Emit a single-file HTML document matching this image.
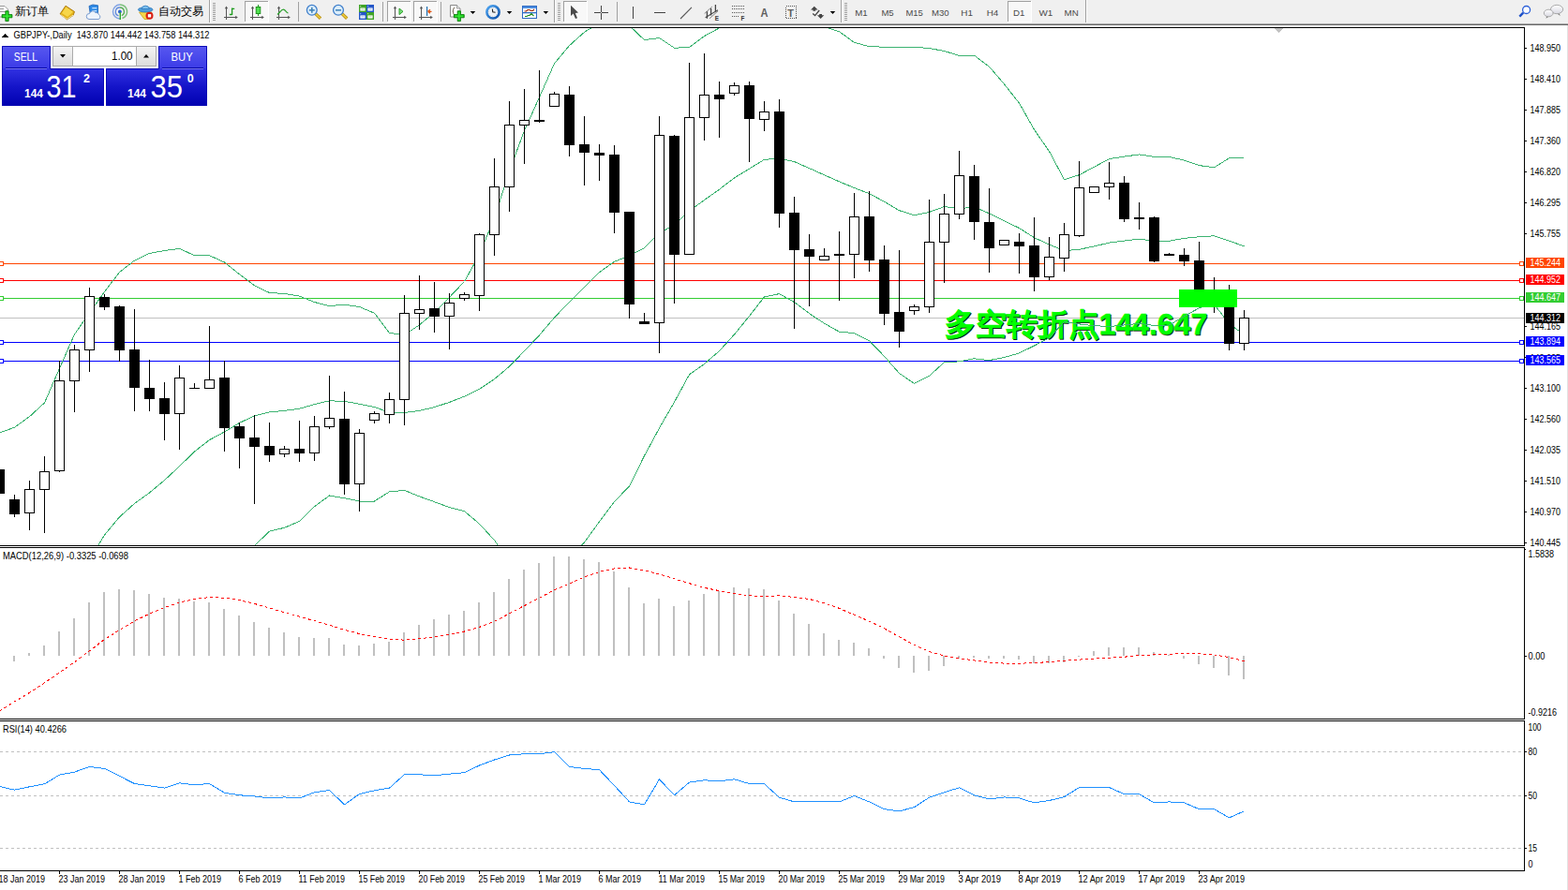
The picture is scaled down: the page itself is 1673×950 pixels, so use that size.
<!DOCTYPE html>
<html><head><meta charset="utf-8"><title>GBPJPY Daily</title>
<style>
html,body{margin:0;padding:0;background:#fff;width:1673px;height:950px;overflow:hidden;font-family:"Liberation Sans",sans-serif;}
svg{position:absolute;left:0;top:0;display:block}
text{font-family:"Liberation Sans",sans-serif}
</style></head><body>
<svg width="1673" height="950" viewBox="0 0 1673 950">
<rect x="0" y="0" width="1673" height="950" fill="#fff"/>
<!-- chart -->
<defs><clipPath id="cm"><rect x="0" y="30" width="1626" height="552"/></clipPath><clipPath id="c2"><rect x="0" y="585" width="1626" height="182"/></clipPath><clipPath id="c3"><rect x="0" y="770" width="1626" height="159"/></clipPath></defs>
<g clip-path="url(#cm)" shape-rendering="crispEdges">
<rect x="0" y="281" width="1626" height="1" fill="#FF4500" />
<rect x="0" y="299" width="1626" height="1" fill="#FF0000" />
<rect x="0" y="318" width="1626" height="1" fill="#32CD32" />
<rect x="0" y="339" width="1626" height="1" fill="#C0C0C0" />
<rect x="0" y="365" width="1626" height="1" fill="#0000FF" />
<rect x="0" y="385" width="1626" height="1" fill="#0000FF" />
</g>
<text x="1009.4" y="358" font-family="Liberation Sans, Noto Sans CJK SC, sans-serif" font-weight="bold" font-size="32" fill="#0A2A12" stroke="#0A2A12" stroke-width="0.4" textLength="164" lengthAdjust="spacingAndGlyphs">多空转折点</text>
<text x="1173.5" y="358" font-family="Liberation Sans, sans-serif" font-weight="bold" font-size="32" fill="#0A2A12" stroke="#0A2A12" stroke-width="0.5">144.647</text>
<text x="1008.4" y="357" font-family="Liberation Sans, Noto Sans CJK SC, sans-serif" font-weight="bold" font-size="32" fill="#00FF00" stroke="#00FF00" stroke-width="0.4" textLength="164" lengthAdjust="spacingAndGlyphs">多空转折点</text>
<text x="1172.5" y="357" font-family="Liberation Sans, sans-serif" font-weight="bold" font-size="32" fill="#00FF00" stroke="#00FF00" stroke-width="0.5">144.647</text>
<g clip-path="url(#cm)" shape-rendering="crispEdges">
<polyline points="-0.5,462 15.5,456.2 31.5,444.7 47.5,430 63.5,393.2 79.5,356.9 95.5,333.9 111.5,311.5 127.5,290.5 143.5,278.1 159.5,270.4 175.5,267.5 191.5,265.4 207.5,272.7 223.5,272.7 239.5,280 255.5,292.8 271.5,304.8 287.5,312.5 303.5,313.5 319.5,316.1 335.5,322.5 351.5,326.6 367.5,325.2 383.5,327.5 399.5,334.3 415.5,355.4 431.5,357.6 447.5,346.8 463.5,333.4 479.5,317.3 495.5,300.5 511.5,271.7 527.5,232.8 543.5,182.5 559.5,139.4 575.5,103.8 591.5,67.8 607.5,48.7 623.5,34.3 639.5,24.5 655.5,22.9 671.5,27.4 687.5,42.6 703.5,40.5 719.5,51.2 735.5,50.5 751.5,38.5 767.5,29.9 783.5,22.9 799.5,22.8 815.5,23.8 831.5,24.8 847.5,22.5 863.5,24.5 879.5,28.4 895.5,33.7 911.5,45.4 927.5,49.6 943.5,50.2 959.5,50.8 975.5,50.1 991.5,51.6 1007.5,54.4 1023.5,59.5 1039.5,59.1 1055.5,71.2 1071.5,89.8 1087.5,110.1 1103.5,138.4 1119.5,161.5 1135.5,191.7 1151.5,186.7 1167.5,178.2 1183.5,169.6 1199.5,167.1 1215.5,164.9 1231.5,167.4 1247.5,167.4 1263.5,171.1 1279.5,176.6 1295.5,178.8 1311.5,168.7 1327.5,168.4" fill="none" stroke="#3CB371" stroke-width="1"/>
<polyline points="79.5,625.5 95.5,597.5 111.5,571 127.5,551.8 143.5,537.5 159.5,526 175.5,512.6 191.5,497.7 207.5,482 223.5,469.6 239.5,461 255.5,451.4 271.5,443.8 287.5,439.9 303.5,438.4 319.5,436.2 335.5,431.6 351.5,427.8 367.5,428.4 383.5,431.2 399.5,434.6 415.5,440.1 431.5,440.5 447.5,438.4 463.5,434.6 479.5,429.4 495.5,423.1 511.5,415.4 527.5,404.7 543.5,391.1 559.5,374.7 575.5,357.8 591.5,339 607.5,322.4 623.5,306.6 639.5,290.7 655.5,279.2 671.5,273.1 687.5,264.6 703.5,248.7 719.5,240.2 735.5,225.2 751.5,213.5 767.5,202.2 783.5,189.9 799.5,180.1 815.5,170.3 831.5,169.2 847.5,172.6 863.5,179.6 879.5,186.8 895.5,193.9 911.5,200.5 927.5,206.7 943.5,215.2 959.5,224.7 975.5,229.7 991.5,226.4 1007.5,220.6 1023.5,222.7 1039.5,220.9 1055.5,227.9 1071.5,235.7 1087.5,243.5 1103.5,253.7 1119.5,261.1 1135.5,267.6 1151.5,266.3 1167.5,262.9 1183.5,259.1 1199.5,257.1 1215.5,255.1 1231.5,257.4 1247.5,257.2 1263.5,254.4 1279.5,252.7 1295.5,251.8 1311.5,257.2 1327.5,262.8" fill="none" stroke="#3CB371" stroke-width="1"/>
<polyline points="239.5,625.5 255.5,600.5 271.5,582.5 287.5,567.1 303.5,563.3 319.5,556.4 335.5,540.7 351.5,529 367.5,531.7 383.5,535 399.5,535 415.5,524.9 431.5,523.4 447.5,529.9 463.5,535.7 479.5,541.6 495.5,545.7 511.5,559.2 527.5,576.6 543.5,599.7 559.5,610 575.5,611.8 591.5,610.2 607.5,596.2 623.5,578.9 639.5,556.9 655.5,535.6 671.5,518.9 687.5,486.6 703.5,456.9 719.5,429.2 735.5,399.8 751.5,388.5 767.5,374.6 783.5,357 799.5,337.4 815.5,316.9 831.5,313.6 847.5,322.6 863.5,334.6 879.5,345.2 895.5,354.2 911.5,355.6 927.5,363.7 943.5,380.3 959.5,398.5 975.5,409.3 991.5,401.2 1007.5,386.7 1023.5,385.9 1039.5,382.8 1055.5,384.6 1071.5,381.5 1087.5,376.9 1103.5,369 1119.5,360.7 1135.5,343.6 1151.5,345.9 1167.5,347.7 1183.5,348.5 1199.5,347 1215.5,345.3 1231.5,347.5 1247.5,347 1263.5,337.7 1279.5,328.7 1295.5,324.8 1311.5,345.7 1327.5,357.1" fill="none" stroke="#3CB371" stroke-width="1"/>
<rect x="-1" y="495" width="1" height="36" fill="#000"/>
<rect x="-6" y="501" width="11" height="26" fill="#000"/>
<rect x="15" y="528" width="1" height="24" fill="#000"/>
<rect x="10" y="533" width="11" height="16" fill="#000"/>
<rect x="31" y="513" width="1" height="53" fill="#000"/>
<rect x="26" y="522" width="11" height="26" fill="#000"/>
<rect x="27" y="523" width="9" height="24" fill="#fff"/>
<rect x="47" y="487" width="1" height="82" fill="#000"/>
<rect x="42" y="503" width="11" height="20" fill="#000"/>
<rect x="43" y="504" width="9" height="18" fill="#fff"/>
<rect x="63" y="385" width="1" height="119" fill="#000"/>
<rect x="58" y="406" width="11" height="97" fill="#000"/>
<rect x="59" y="407" width="9" height="95" fill="#fff"/>
<rect x="79" y="368" width="1" height="72" fill="#000"/>
<rect x="74" y="373" width="11" height="34" fill="#000"/>
<rect x="75" y="374" width="9" height="32" fill="#fff"/>
<rect x="95" y="307" width="1" height="90" fill="#000"/>
<rect x="90" y="316" width="11" height="58" fill="#000"/>
<rect x="91" y="317" width="9" height="56" fill="#fff"/>
<rect x="111" y="314" width="1" height="17" fill="#000"/>
<rect x="106" y="317" width="11" height="11" fill="#000"/>
<rect x="127" y="326" width="1" height="60" fill="#000"/>
<rect x="122" y="327" width="11" height="47" fill="#000"/>
<rect x="143" y="330" width="1" height="109" fill="#000"/>
<rect x="138" y="373" width="11" height="41" fill="#000"/>
<rect x="159" y="384" width="1" height="55" fill="#000"/>
<rect x="154" y="414" width="11" height="12" fill="#000"/>
<rect x="175" y="408" width="1" height="62" fill="#000"/>
<rect x="170" y="425" width="11" height="17" fill="#000"/>
<rect x="191" y="390" width="1" height="90" fill="#000"/>
<rect x="186" y="403" width="11" height="39" fill="#000"/>
<rect x="187" y="404" width="9" height="37" fill="#fff"/>
<rect x="207" y="409" width="1" height="6" fill="#000"/>
<rect x="202" y="414" width="11" height="1" fill="#000"/>
<rect x="223" y="348" width="1" height="67" fill="#000"/>
<rect x="218" y="405" width="11" height="10" fill="#000"/>
<rect x="219" y="406" width="9" height="8" fill="#fff"/>
<rect x="239" y="385" width="1" height="97" fill="#000"/>
<rect x="234" y="403" width="11" height="54" fill="#000"/>
<rect x="255" y="451" width="1" height="49" fill="#000"/>
<rect x="250" y="455" width="11" height="13" fill="#000"/>
<rect x="271" y="443" width="1" height="95" fill="#000"/>
<rect x="266" y="467" width="11" height="10" fill="#000"/>
<rect x="287" y="451" width="1" height="42" fill="#000"/>
<rect x="282" y="476" width="11" height="10" fill="#000"/>
<rect x="303" y="476" width="1" height="12" fill="#000"/>
<rect x="298" y="479" width="11" height="6" fill="#000"/>
<rect x="299" y="480" width="9" height="4" fill="#fff"/>
<rect x="319" y="449" width="1" height="44" fill="#000"/>
<rect x="314" y="479" width="11" height="5" fill="#000"/>
<rect x="335" y="444" width="1" height="48" fill="#000"/>
<rect x="330" y="455" width="11" height="29" fill="#000"/>
<rect x="331" y="456" width="9" height="27" fill="#fff"/>
<rect x="351" y="401" width="1" height="57" fill="#000"/>
<rect x="346" y="446" width="11" height="10" fill="#000"/>
<rect x="347" y="447" width="9" height="8" fill="#fff"/>
<rect x="367" y="418" width="1" height="110" fill="#000"/>
<rect x="362" y="447" width="11" height="70" fill="#000"/>
<rect x="383" y="458" width="1" height="88" fill="#000"/>
<rect x="378" y="462" width="11" height="55" fill="#000"/>
<rect x="379" y="463" width="9" height="53" fill="#fff"/>
<rect x="399" y="439" width="1" height="13" fill="#000"/>
<rect x="394" y="441" width="11" height="8" fill="#000"/>
<rect x="395" y="442" width="9" height="6" fill="#fff"/>
<rect x="415" y="419" width="1" height="33" fill="#000"/>
<rect x="410" y="426" width="11" height="17" fill="#000"/>
<rect x="411" y="427" width="9" height="15" fill="#fff"/>
<rect x="431" y="315" width="1" height="139" fill="#000"/>
<rect x="426" y="334" width="11" height="93" fill="#000"/>
<rect x="427" y="335" width="9" height="91" fill="#fff"/>
<rect x="447" y="294" width="1" height="58" fill="#000"/>
<rect x="442" y="330" width="11" height="5" fill="#000"/>
<rect x="443" y="331" width="9" height="3" fill="#fff"/>
<rect x="463" y="301" width="1" height="54" fill="#000"/>
<rect x="458" y="329" width="11" height="9" fill="#000"/>
<rect x="479" y="313" width="1" height="60" fill="#000"/>
<rect x="474" y="323" width="11" height="15" fill="#000"/>
<rect x="475" y="324" width="9" height="13" fill="#fff"/>
<rect x="495" y="312" width="1" height="9" fill="#000"/>
<rect x="490" y="314" width="11" height="5" fill="#000"/>
<rect x="491" y="315" width="9" height="3" fill="#fff"/>
<rect x="511" y="249" width="1" height="83" fill="#000"/>
<rect x="506" y="250" width="11" height="66" fill="#000"/>
<rect x="507" y="251" width="9" height="64" fill="#fff"/>
<rect x="527" y="169" width="1" height="104" fill="#000"/>
<rect x="522" y="199" width="11" height="52" fill="#000"/>
<rect x="523" y="200" width="9" height="50" fill="#fff"/>
<rect x="543" y="108" width="1" height="118" fill="#000"/>
<rect x="538" y="133" width="11" height="67" fill="#000"/>
<rect x="539" y="134" width="9" height="65" fill="#fff"/>
<rect x="559" y="95" width="1" height="80" fill="#000"/>
<rect x="554" y="128" width="11" height="6" fill="#000"/>
<rect x="555" y="129" width="9" height="4" fill="#fff"/>
<rect x="575" y="75" width="1" height="56" fill="#000"/>
<rect x="570" y="128" width="11" height="2" fill="#000"/>
<rect x="591" y="98" width="1" height="16" fill="#000"/>
<rect x="586" y="100" width="11" height="14" fill="#000"/>
<rect x="587" y="101" width="9" height="12" fill="#fff"/>
<rect x="607" y="92" width="1" height="75" fill="#000"/>
<rect x="602" y="101" width="11" height="54" fill="#000"/>
<rect x="623" y="124" width="1" height="74" fill="#000"/>
<rect x="618" y="154" width="11" height="9" fill="#000"/>
<rect x="639" y="154" width="1" height="39" fill="#000"/>
<rect x="634" y="163" width="11" height="3" fill="#000"/>
<rect x="655" y="155" width="1" height="94" fill="#000"/>
<rect x="650" y="165" width="11" height="62" fill="#000"/>
<rect x="671" y="226" width="1" height="114" fill="#000"/>
<rect x="666" y="226" width="11" height="99" fill="#000"/>
<rect x="687" y="334" width="1" height="12" fill="#000"/>
<rect x="682" y="343" width="11" height="3" fill="#000"/>
<rect x="703" y="124" width="1" height="253" fill="#000"/>
<rect x="698" y="144" width="11" height="201" fill="#000"/>
<rect x="699" y="145" width="9" height="199" fill="#fff"/>
<rect x="719" y="144" width="1" height="180" fill="#000"/>
<rect x="714" y="145" width="11" height="127" fill="#000"/>
<rect x="735" y="67" width="1" height="205" fill="#000"/>
<rect x="730" y="125" width="11" height="147" fill="#000"/>
<rect x="731" y="126" width="9" height="145" fill="#fff"/>
<rect x="751" y="57" width="1" height="93" fill="#000"/>
<rect x="746" y="101" width="11" height="25" fill="#000"/>
<rect x="747" y="102" width="9" height="23" fill="#fff"/>
<rect x="767" y="87" width="1" height="60" fill="#000"/>
<rect x="762" y="101" width="11" height="5" fill="#000"/>
<rect x="783" y="88" width="1" height="14" fill="#000"/>
<rect x="778" y="91" width="11" height="9" fill="#000"/>
<rect x="779" y="92" width="9" height="7" fill="#fff"/>
<rect x="799" y="87" width="1" height="86" fill="#000"/>
<rect x="794" y="91" width="11" height="36" fill="#000"/>
<rect x="815" y="108" width="1" height="32" fill="#000"/>
<rect x="810" y="119" width="11" height="9" fill="#000"/>
<rect x="811" y="120" width="9" height="7" fill="#fff"/>
<rect x="831" y="106" width="1" height="137" fill="#000"/>
<rect x="826" y="119" width="11" height="109" fill="#000"/>
<rect x="847" y="210" width="1" height="141" fill="#000"/>
<rect x="842" y="227" width="11" height="40" fill="#000"/>
<rect x="863" y="250" width="1" height="77" fill="#000"/>
<rect x="858" y="266" width="11" height="8" fill="#000"/>
<rect x="879" y="265" width="1" height="13" fill="#000"/>
<rect x="874" y="273" width="11" height="5" fill="#000"/>
<rect x="875" y="274" width="9" height="3" fill="#fff"/>
<rect x="895" y="247" width="1" height="74" fill="#000"/>
<rect x="890" y="271" width="11" height="2" fill="#000"/>
<rect x="911" y="206" width="1" height="91" fill="#000"/>
<rect x="906" y="231" width="11" height="41" fill="#000"/>
<rect x="907" y="232" width="9" height="39" fill="#fff"/>
<rect x="927" y="204" width="1" height="86" fill="#000"/>
<rect x="922" y="231" width="11" height="47" fill="#000"/>
<rect x="943" y="262" width="1" height="85" fill="#000"/>
<rect x="938" y="277" width="11" height="58" fill="#000"/>
<rect x="959" y="267" width="1" height="104" fill="#000"/>
<rect x="954" y="333" width="11" height="21" fill="#000"/>
<rect x="975" y="325" width="1" height="11" fill="#000"/>
<rect x="970" y="327" width="11" height="5" fill="#000"/>
<rect x="971" y="328" width="9" height="3" fill="#fff"/>
<rect x="991" y="213" width="1" height="121" fill="#000"/>
<rect x="986" y="258" width="11" height="70" fill="#000"/>
<rect x="987" y="259" width="9" height="68" fill="#fff"/>
<rect x="1007" y="207" width="1" height="95" fill="#000"/>
<rect x="1002" y="228" width="11" height="31" fill="#000"/>
<rect x="1003" y="229" width="9" height="29" fill="#fff"/>
<rect x="1023" y="161" width="1" height="73" fill="#000"/>
<rect x="1018" y="187" width="11" height="42" fill="#000"/>
<rect x="1019" y="188" width="9" height="40" fill="#fff"/>
<rect x="1039" y="176" width="1" height="80" fill="#000"/>
<rect x="1034" y="188" width="11" height="49" fill="#000"/>
<rect x="1055" y="201" width="1" height="90" fill="#000"/>
<rect x="1050" y="237" width="11" height="28" fill="#000"/>
<rect x="1071" y="256" width="1" height="6" fill="#000"/>
<rect x="1066" y="256" width="11" height="6" fill="#000"/>
<rect x="1067" y="257" width="9" height="4" fill="#fff"/>
<rect x="1087" y="249" width="1" height="43" fill="#000"/>
<rect x="1082" y="258" width="11" height="5" fill="#000"/>
<rect x="1103" y="232" width="1" height="79" fill="#000"/>
<rect x="1098" y="262" width="11" height="34" fill="#000"/>
<rect x="1119" y="253" width="1" height="46" fill="#000"/>
<rect x="1114" y="274" width="11" height="22" fill="#000"/>
<rect x="1115" y="275" width="9" height="20" fill="#fff"/>
<rect x="1135" y="238" width="1" height="52" fill="#000"/>
<rect x="1130" y="250" width="11" height="26" fill="#000"/>
<rect x="1131" y="251" width="9" height="24" fill="#fff"/>
<rect x="1151" y="172" width="1" height="81" fill="#000"/>
<rect x="1146" y="200" width="11" height="52" fill="#000"/>
<rect x="1147" y="201" width="9" height="50" fill="#fff"/>
<rect x="1167" y="199" width="1" height="7" fill="#000"/>
<rect x="1162" y="199" width="11" height="7" fill="#000"/>
<rect x="1163" y="200" width="9" height="5" fill="#fff"/>
<rect x="1183" y="173" width="1" height="40" fill="#000"/>
<rect x="1178" y="195" width="11" height="5" fill="#000"/>
<rect x="1179" y="196" width="9" height="3" fill="#fff"/>
<rect x="1199" y="188" width="1" height="49" fill="#000"/>
<rect x="1194" y="195" width="11" height="39" fill="#000"/>
<rect x="1215" y="216" width="1" height="29" fill="#000"/>
<rect x="1210" y="232" width="11" height="2" fill="#000"/>
<rect x="1231" y="231" width="1" height="49" fill="#000"/>
<rect x="1226" y="232" width="11" height="47" fill="#000"/>
<rect x="1247" y="270" width="1" height="3" fill="#000"/>
<rect x="1242" y="271" width="11" height="2" fill="#000"/>
<rect x="1263" y="265" width="1" height="19" fill="#000"/>
<rect x="1258" y="272" width="11" height="7" fill="#000"/>
<rect x="1279" y="258" width="1" height="62" fill="#000"/>
<rect x="1274" y="278" width="11" height="41" fill="#000"/>
<rect x="1295" y="296" width="1" height="38" fill="#000"/>
<rect x="1290" y="310" width="11" height="9" fill="#000"/>
<rect x="1291" y="311" width="9" height="7" fill="#fff"/>
<rect x="1311" y="304" width="1" height="70" fill="#000"/>
<rect x="1306" y="311" width="11" height="56" fill="#000"/>
<rect x="1327" y="331" width="1" height="43" fill="#000"/>
<rect x="1322" y="339" width="11" height="28" fill="#000"/>
<rect x="1323" y="340" width="9" height="26" fill="#fff"/>
<rect x="1258" y="309" width="62" height="19" fill="#00FF00"/>
<rect x="-0.5" y="279.5" width="4" height="4" fill="#fff" stroke="#FF4500" stroke-width="1"/>
<rect x="1621.5" y="279.5" width="4" height="4" fill="#fff" stroke="#FF4500" stroke-width="1"/>
<rect x="-0.5" y="297.5" width="4" height="4" fill="#fff" stroke="#FF0000" stroke-width="1"/>
<rect x="1621.5" y="297.5" width="4" height="4" fill="#fff" stroke="#FF0000" stroke-width="1"/>
<rect x="-0.5" y="316.5" width="4" height="4" fill="#fff" stroke="#32CD32" stroke-width="1"/>
<rect x="1621.5" y="316.5" width="4" height="4" fill="#fff" stroke="#32CD32" stroke-width="1"/>
<rect x="-0.5" y="363.5" width="4" height="4" fill="#fff" stroke="#0000FF" stroke-width="1"/>
<rect x="1621.5" y="363.5" width="4" height="4" fill="#fff" stroke="#0000FF" stroke-width="1"/>
<rect x="-0.5" y="383.5" width="4" height="4" fill="#fff" stroke="#0000FF" stroke-width="1"/>
<rect x="1621.5" y="383.5" width="4" height="4" fill="#fff" stroke="#0000FF" stroke-width="1"/>
</g>
<g clip-path="url(#c2)" shape-rendering="crispEdges">
<rect x="14" y="700" width="2" height="6" fill="#C0C0C0"/>
<rect x="30" y="697" width="2" height="3" fill="#C0C0C0"/>
<rect x="46" y="689" width="2" height="11" fill="#C0C0C0"/>
<rect x="62" y="674" width="2" height="26" fill="#C0C0C0"/>
<rect x="78" y="660" width="2" height="40" fill="#C0C0C0"/>
<rect x="94" y="643" width="2" height="57" fill="#C0C0C0"/>
<rect x="110" y="632" width="2" height="68" fill="#C0C0C0"/>
<rect x="126" y="629" width="2" height="71" fill="#C0C0C0"/>
<rect x="142" y="630" width="2" height="70" fill="#C0C0C0"/>
<rect x="158" y="634" width="2" height="66" fill="#C0C0C0"/>
<rect x="174" y="638" width="2" height="62" fill="#C0C0C0"/>
<rect x="190" y="639" width="2" height="61" fill="#C0C0C0"/>
<rect x="206" y="642" width="2" height="58" fill="#C0C0C0"/>
<rect x="222" y="643" width="2" height="57" fill="#C0C0C0"/>
<rect x="238" y="650" width="2" height="50" fill="#C0C0C0"/>
<rect x="254" y="657" width="2" height="43" fill="#C0C0C0"/>
<rect x="270" y="664" width="2" height="36" fill="#C0C0C0"/>
<rect x="286" y="670" width="2" height="30" fill="#C0C0C0"/>
<rect x="302" y="675" width="2" height="25" fill="#C0C0C0"/>
<rect x="318" y="680" width="2" height="20" fill="#C0C0C0"/>
<rect x="334" y="681" width="2" height="19" fill="#C0C0C0"/>
<rect x="350" y="681" width="2" height="19" fill="#C0C0C0"/>
<rect x="366" y="688" width="2" height="12" fill="#C0C0C0"/>
<rect x="382" y="689" width="2" height="11" fill="#C0C0C0"/>
<rect x="398" y="687" width="2" height="13" fill="#C0C0C0"/>
<rect x="414" y="685" width="2" height="15" fill="#C0C0C0"/>
<rect x="430" y="675" width="2" height="25" fill="#C0C0C0"/>
<rect x="446" y="667" width="2" height="33" fill="#C0C0C0"/>
<rect x="462" y="661" width="2" height="39" fill="#C0C0C0"/>
<rect x="478" y="656" width="2" height="44" fill="#C0C0C0"/>
<rect x="494" y="652" width="2" height="48" fill="#C0C0C0"/>
<rect x="510" y="643" width="2" height="57" fill="#C0C0C0"/>
<rect x="526" y="632" width="2" height="68" fill="#C0C0C0"/>
<rect x="542" y="618" width="2" height="82" fill="#C0C0C0"/>
<rect x="558" y="608" width="2" height="92" fill="#C0C0C0"/>
<rect x="574" y="601" width="2" height="99" fill="#C0C0C0"/>
<rect x="590" y="594" width="2" height="106" fill="#C0C0C0"/>
<rect x="606" y="594" width="2" height="106" fill="#C0C0C0"/>
<rect x="622" y="597" width="2" height="103" fill="#C0C0C0"/>
<rect x="638" y="600" width="2" height="100" fill="#C0C0C0"/>
<rect x="654" y="610" width="2" height="90" fill="#C0C0C0"/>
<rect x="670" y="627" width="2" height="73" fill="#C0C0C0"/>
<rect x="686" y="644" width="2" height="56" fill="#C0C0C0"/>
<rect x="702" y="639" width="2" height="61" fill="#C0C0C0"/>
<rect x="718" y="647" width="2" height="53" fill="#C0C0C0"/>
<rect x="734" y="641" width="2" height="59" fill="#C0C0C0"/>
<rect x="750" y="634" width="2" height="66" fill="#C0C0C0"/>
<rect x="766" y="631" width="2" height="69" fill="#C0C0C0"/>
<rect x="782" y="627" width="2" height="73" fill="#C0C0C0"/>
<rect x="798" y="628" width="2" height="72" fill="#C0C0C0"/>
<rect x="814" y="629" width="2" height="71" fill="#C0C0C0"/>
<rect x="830" y="641" width="2" height="59" fill="#C0C0C0"/>
<rect x="846" y="655" width="2" height="45" fill="#C0C0C0"/>
<rect x="862" y="666" width="2" height="34" fill="#C0C0C0"/>
<rect x="878" y="676" width="2" height="24" fill="#C0C0C0"/>
<rect x="894" y="683" width="2" height="17" fill="#C0C0C0"/>
<rect x="910" y="686" width="2" height="14" fill="#C0C0C0"/>
<rect x="926" y="692" width="2" height="8" fill="#C0C0C0"/>
<rect x="942" y="700" width="2" height="3" fill="#C0C0C0"/>
<rect x="958" y="700" width="2" height="13" fill="#C0C0C0"/>
<rect x="974" y="700" width="2" height="18" fill="#C0C0C0"/>
<rect x="990" y="700" width="2" height="16" fill="#C0C0C0"/>
<rect x="1006" y="700" width="2" height="11" fill="#C0C0C0"/>
<rect x="1022" y="700" width="2" height="3" fill="#C0C0C0"/>
<rect x="1038" y="700" width="2" height="2" fill="#C0C0C0"/>
<rect x="1054" y="700" width="2" height="3" fill="#C0C0C0"/>
<rect x="1070" y="700" width="2" height="3" fill="#C0C0C0"/>
<rect x="1086" y="700" width="2" height="4" fill="#C0C0C0"/>
<rect x="1102" y="700" width="2" height="8" fill="#C0C0C0"/>
<rect x="1118" y="700" width="2" height="8" fill="#C0C0C0"/>
<rect x="1134" y="700" width="2" height="7" fill="#C0C0C0"/>
<rect x="1150" y="700" width="2" height="1" fill="#C0C0C0"/>
<rect x="1166" y="695" width="2" height="5" fill="#C0C0C0"/>
<rect x="1182" y="691" width="2" height="9" fill="#C0C0C0"/>
<rect x="1198" y="691" width="2" height="9" fill="#C0C0C0"/>
<rect x="1214" y="691" width="2" height="9" fill="#C0C0C0"/>
<rect x="1230" y="696" width="2" height="4" fill="#C0C0C0"/>
<rect x="1246" y="699" width="2" height="1" fill="#C0C0C0"/>
<rect x="1262" y="700" width="2" height="3" fill="#C0C0C0"/>
<rect x="1278" y="700" width="2" height="9" fill="#C0C0C0"/>
<rect x="1294" y="700" width="2" height="13" fill="#C0C0C0"/>
<rect x="1310" y="700" width="2" height="21" fill="#C0C0C0"/>
<rect x="1326" y="700" width="2" height="25" fill="#C0C0C0"/>
<polyline points="-0.5,759 15.5,748.9 31.5,739.5 47.5,728.8 63.5,717.8 79.5,706.7 95.5,694.7 111.5,682.6 127.5,672.6 143.5,662.9 159.5,655 175.5,648.6 191.5,643.1 207.5,639.4 223.5,637.6 239.5,638.2 255.5,640.6 271.5,644.4 287.5,649.1 303.5,653.6 319.5,658.2 335.5,662.7 351.5,667.2 367.5,672.4 383.5,676.5 399.5,679.6 415.5,682.4 431.5,683.1 447.5,681.8 463.5,679.7 479.5,677.2 495.5,674 511.5,669.4 527.5,663.2 543.5,654.9 559.5,646.5 575.5,638.2 591.5,629.8 607.5,623 623.5,616 639.5,610.4 655.5,606.9 671.5,606 687.5,608.9 703.5,612.8 719.5,617.8 735.5,622.7 751.5,627.4 767.5,630.6 783.5,633.6 799.5,635.8 815.5,636.6 831.5,635.9 847.5,637.5 863.5,639.5 879.5,643.6 895.5,649.4 911.5,656.3 927.5,663.1 943.5,670.8 959.5,679.8 975.5,688.4 991.5,695.5 1007.5,700 1023.5,702.7 1039.5,705 1055.5,707 1071.5,708.1 1087.5,708.1 1103.5,707.8 1119.5,706.4 1135.5,705.4 1151.5,704.1 1167.5,703.1 1183.5,702.2 1199.5,701.2 1215.5,699.7 1231.5,698.9 1247.5,698.1 1263.5,697.7 1279.5,697.8 1295.5,698.9 1311.5,701.6 1327.5,705.6" fill="none" stroke="#FF0000" stroke-width="1" stroke-dasharray="3,3"/>
</g>
<g clip-path="url(#c3)" shape-rendering="crispEdges">
<line x1="0" y1="802.5" x2="1626" y2="802.5" stroke="#C0C0C0" stroke-width="1" stroke-dasharray="3,3"/>
<line x1="0" y1="849.5" x2="1626" y2="849.5" stroke="#C0C0C0" stroke-width="1" stroke-dasharray="3,3"/>
<line x1="0" y1="905.5" x2="1626" y2="905.5" stroke="#C0C0C0" stroke-width="1" stroke-dasharray="3,3"/>
<polyline points="-0.5,839.5 15.5,843.2 31.5,839.8 47.5,836.8 63.5,827.1 79.5,824.1 95.5,818.4 111.5,820.4 127.5,828.4 143.5,836.5 159.5,838.8 175.5,841.1 191.5,835.8 207.5,837.8 223.5,836.5 239.5,846.2 255.5,848.8 271.5,849.9 287.5,851.9 303.5,850.9 319.5,851.9 335.5,845.8 351.5,843.5 367.5,858.9 383.5,847.5 399.5,843.8 415.5,841.1 431.5,826.8 447.5,826.8 463.5,827.8 479.5,826.1 495.5,824.7 511.5,817 527.5,811 543.5,806 559.5,804.7 575.5,804.7 591.5,802.7 607.5,818.4 623.5,820.4 639.5,821.7 655.5,838.5 671.5,855.9 687.5,858.9 703.5,831.8 719.5,848.8 735.5,835.1 751.5,832.8 767.5,833.8 783.5,831.8 799.5,836.5 815.5,836.8 831.5,851.2 847.5,855.9 863.5,855.9 879.5,855.9 895.5,855.9 911.5,849.5 927.5,855.9 943.5,863.6 959.5,865.9 975.5,861.6 991.5,851.2 1007.5,845.8 1023.5,840.8 1039.5,848.8 1055.5,852.9 1071.5,850.9 1087.5,851.9 1103.5,856.9 1119.5,854.5 1135.5,850.6 1151.5,840.6 1167.5,840.6 1183.5,840.6 1199.5,847.7 1215.5,847.7 1231.5,856.9 1247.5,855.9 1263.5,856.9 1279.5,863.7 1295.5,863.7 1311.5,872.9 1327.5,865.8" fill="none" stroke="#1E90FF" stroke-width="1"/>
</g>
<g shape-rendering="crispEdges">
<rect x="0" y="29" width="1627" height="1" fill="#000" />
<rect x="1626" y="29" width="1" height="554" fill="#000"/>
<rect x="1626" y="584" width="1" height="184" fill="#000"/>
<rect x="1626" y="769" width="1" height="161" fill="#000"/>
<rect x="0" y="582" width="1627" height="1" fill="#000" />
<rect x="0" y="584" width="1627" height="1" fill="#000" />
<rect x="0" y="767" width="1627" height="1" fill="#000" />
<rect x="0" y="769" width="1627" height="1" fill="#000" />
<rect x="0" y="929" width="1627" height="1" fill="#000" />
<rect x="1672" y="27" width="1" height="923" fill="#E3E3E3"/>
<rect x="1360" y="30" width="9" height="1" fill="#C0C0C0"/>
<rect x="1361" y="31" width="7" height="1" fill="#C0C0C0"/>
<rect x="1362" y="32" width="5" height="1" fill="#C0C0C0"/>
<rect x="1363" y="33" width="3" height="1" fill="#C0C0C0"/>
<rect x="1364" y="34" width="1" height="1" fill="#C0C0C0"/>
</g>
<!-- axis & labels -->
<g font-family="Liberation Sans, sans-serif" shape-rendering="crispEdges">
<rect x="1627" y="51" width="2" height="1" fill="#000"/>
<text x="1632.5" y="55" font-size="10.4" fill="#000" font-weight="normal" text-anchor="start" textLength="32.5" lengthAdjust="spacingAndGlyphs" >148.950</text>
<rect x="1627" y="84" width="2" height="1" fill="#000"/>
<text x="1632.5" y="88" font-size="10.4" fill="#000" font-weight="normal" text-anchor="start" textLength="32.5" lengthAdjust="spacingAndGlyphs" >148.410</text>
<rect x="1627" y="117" width="2" height="1" fill="#000"/>
<text x="1632.5" y="121" font-size="10.4" fill="#000" font-weight="normal" text-anchor="start" textLength="32.5" lengthAdjust="spacingAndGlyphs" >147.885</text>
<rect x="1627" y="150" width="2" height="1" fill="#000"/>
<text x="1632.5" y="154" font-size="10.4" fill="#000" font-weight="normal" text-anchor="start" textLength="32.5" lengthAdjust="spacingAndGlyphs" >147.360</text>
<rect x="1627" y="183" width="2" height="1" fill="#000"/>
<text x="1632.5" y="187" font-size="10.4" fill="#000" font-weight="normal" text-anchor="start" textLength="32.5" lengthAdjust="spacingAndGlyphs" >146.820</text>
<rect x="1627" y="216" width="2" height="1" fill="#000"/>
<text x="1632.5" y="220" font-size="10.4" fill="#000" font-weight="normal" text-anchor="start" textLength="32.5" lengthAdjust="spacingAndGlyphs" >146.295</text>
<rect x="1627" y="249" width="2" height="1" fill="#000"/>
<text x="1632.5" y="253" font-size="10.4" fill="#000" font-weight="normal" text-anchor="start" textLength="32.5" lengthAdjust="spacingAndGlyphs" >145.755</text>
<rect x="1627" y="348" width="2" height="1" fill="#000"/>
<text x="1632.5" y="352" font-size="10.4" fill="#000" font-weight="normal" text-anchor="start" textLength="32.5" lengthAdjust="spacingAndGlyphs" >144.165</text>
<rect x="1627" y="381" width="2" height="1" fill="#000"/>
<text x="1632.5" y="386" font-size="10.4" fill="#000" font-weight="normal" text-anchor="start" textLength="32.5" lengthAdjust="spacingAndGlyphs" >143.625</text>
<rect x="1627" y="414" width="2" height="1" fill="#000"/>
<text x="1632.5" y="418" font-size="10.4" fill="#000" font-weight="normal" text-anchor="start" textLength="32.5" lengthAdjust="spacingAndGlyphs" >143.100</text>
<rect x="1627" y="447" width="2" height="1" fill="#000"/>
<text x="1632.5" y="451" font-size="10.4" fill="#000" font-weight="normal" text-anchor="start" textLength="32.5" lengthAdjust="spacingAndGlyphs" >142.560</text>
<rect x="1627" y="480" width="2" height="1" fill="#000"/>
<text x="1632.5" y="484" font-size="10.4" fill="#000" font-weight="normal" text-anchor="start" textLength="32.5" lengthAdjust="spacingAndGlyphs" >142.035</text>
<rect x="1627" y="513" width="2" height="1" fill="#000"/>
<text x="1632.5" y="517" font-size="10.4" fill="#000" font-weight="normal" text-anchor="start" textLength="32.5" lengthAdjust="spacingAndGlyphs" >141.510</text>
<rect x="1627" y="546" width="2" height="1" fill="#000"/>
<text x="1632.5" y="550" font-size="10.4" fill="#000" font-weight="normal" text-anchor="start" textLength="32.5" lengthAdjust="spacingAndGlyphs" >140.970</text>
<rect x="1627" y="579" width="2" height="1" fill="#000"/>
<text x="1632.5" y="583" font-size="10.4" fill="#000" font-weight="normal" text-anchor="start" textLength="32.5" lengthAdjust="spacingAndGlyphs" >140.445</text>
<rect x="1628" y="275" width="41" height="11" fill="#FF4500"/>
<text x="1632.5" y="284" font-size="10.4" fill="#fff" font-weight="normal" text-anchor="start" textLength="32.5" lengthAdjust="spacingAndGlyphs" >145.244</text>
<rect x="1628" y="293" width="41" height="11" fill="#FF0000"/>
<text x="1632.5" y="302" font-size="10.4" fill="#fff" font-weight="normal" text-anchor="start" textLength="32.5" lengthAdjust="spacingAndGlyphs" >144.952</text>
<rect x="1628" y="312" width="41" height="11" fill="#32CD32"/>
<text x="1632.5" y="321" font-size="10.4" fill="#fff" font-weight="normal" text-anchor="start" textLength="32.5" lengthAdjust="spacingAndGlyphs" >144.647</text>
<rect x="1628" y="334" width="41" height="11" fill="#000000"/>
<text x="1632.5" y="343" font-size="10.4" fill="#fff" font-weight="normal" text-anchor="start" textLength="32.5" lengthAdjust="spacingAndGlyphs" >144.312</text>
<rect x="1628" y="359" width="41" height="11" fill="#0000FF"/>
<text x="1632.5" y="368" font-size="10.4" fill="#fff" font-weight="normal" text-anchor="start" textLength="32.5" lengthAdjust="spacingAndGlyphs" >143.894</text>
<rect x="1628" y="379" width="41" height="11" fill="#0000FF"/>
<text x="1632.5" y="388" font-size="10.4" fill="#fff" font-weight="normal" text-anchor="start" textLength="32.5" lengthAdjust="spacingAndGlyphs" >143.565</text>
<rect x="1627" y="586" width="1" height="1" fill="#000"/>
<text x="1630.5" y="595" font-size="10.4" fill="#000" font-weight="normal" text-anchor="start" textLength="27.5" lengthAdjust="spacingAndGlyphs" >1.5838</text>
<rect x="1627" y="700" width="2" height="1" fill="#000"/>
<text x="1630.5" y="704" font-size="10.4" fill="#000" font-weight="normal" text-anchor="start" textLength="18" lengthAdjust="spacingAndGlyphs" >0.00</text>
<text x="1630.5" y="764" font-size="10.4" fill="#000" font-weight="normal" text-anchor="start" textLength="30.5" lengthAdjust="spacingAndGlyphs" >-0.9216</text>
<text x="1630.5" y="780" font-size="10.4" fill="#000" font-weight="normal" text-anchor="start" textLength="14" lengthAdjust="spacingAndGlyphs" >100</text>
<text x="1630.5" y="806" font-size="10.4" fill="#000" font-weight="normal" text-anchor="start" textLength="9.5" lengthAdjust="spacingAndGlyphs" >80</text>
<text x="1630.5" y="853" font-size="10.4" fill="#000" font-weight="normal" text-anchor="start" textLength="9.5" lengthAdjust="spacingAndGlyphs" >50</text>
<text x="1630.5" y="909" font-size="10.4" fill="#000" font-weight="normal" text-anchor="start" textLength="9.5" lengthAdjust="spacingAndGlyphs" >15</text>
<text x="1630.5" y="926" font-size="10.4" fill="#000" font-weight="normal" text-anchor="start" textLength="5" lengthAdjust="spacingAndGlyphs" >0</text>
<rect x="1627" y="802" width="2" height="1" fill="#000"/>
<rect x="1627" y="849" width="2" height="1" fill="#000"/>
<rect x="1627" y="905" width="2" height="1" fill="#000"/>
<rect x="-1" y="930" width="1" height="3" fill="#000"/>
<text x="-1.5" y="942" font-size="10.4" fill="#000" font-weight="normal" text-anchor="start" textLength="49.5" lengthAdjust="spacingAndGlyphs" >18 Jan 2019</text>
<rect x="63" y="930" width="1" height="3" fill="#000"/>
<text x="62.5" y="942" font-size="10.4" fill="#000" font-weight="normal" text-anchor="start" textLength="49.5" lengthAdjust="spacingAndGlyphs" >23 Jan 2019</text>
<rect x="127" y="930" width="1" height="3" fill="#000"/>
<text x="126.5" y="942" font-size="10.4" fill="#000" font-weight="normal" text-anchor="start" textLength="49.5" lengthAdjust="spacingAndGlyphs" >28 Jan 2019</text>
<rect x="191" y="930" width="1" height="3" fill="#000"/>
<text x="190.5" y="942" font-size="10.4" fill="#000" font-weight="normal" text-anchor="start" textLength="45.5" lengthAdjust="spacingAndGlyphs" >1 Feb 2019</text>
<rect x="255" y="930" width="1" height="3" fill="#000"/>
<text x="254.5" y="942" font-size="10.4" fill="#000" font-weight="normal" text-anchor="start" textLength="45.5" lengthAdjust="spacingAndGlyphs" >6 Feb 2019</text>
<rect x="319" y="930" width="1" height="3" fill="#000"/>
<text x="318.5" y="942" font-size="10.4" fill="#000" font-weight="normal" text-anchor="start" textLength="49.5" lengthAdjust="spacingAndGlyphs" >11 Feb 2019</text>
<rect x="383" y="930" width="1" height="3" fill="#000"/>
<text x="382.5" y="942" font-size="10.4" fill="#000" font-weight="normal" text-anchor="start" textLength="49.5" lengthAdjust="spacingAndGlyphs" >15 Feb 2019</text>
<rect x="447" y="930" width="1" height="3" fill="#000"/>
<text x="446.5" y="942" font-size="10.4" fill="#000" font-weight="normal" text-anchor="start" textLength="49.5" lengthAdjust="spacingAndGlyphs" >20 Feb 2019</text>
<rect x="511" y="930" width="1" height="3" fill="#000"/>
<text x="510.5" y="942" font-size="10.4" fill="#000" font-weight="normal" text-anchor="start" textLength="49.5" lengthAdjust="spacingAndGlyphs" >25 Feb 2019</text>
<rect x="575" y="930" width="1" height="3" fill="#000"/>
<text x="574.5" y="942" font-size="10.4" fill="#000" font-weight="normal" text-anchor="start" textLength="45.5" lengthAdjust="spacingAndGlyphs" >1 Mar 2019</text>
<rect x="639" y="930" width="1" height="3" fill="#000"/>
<text x="638.5" y="942" font-size="10.4" fill="#000" font-weight="normal" text-anchor="start" textLength="45.5" lengthAdjust="spacingAndGlyphs" >6 Mar 2019</text>
<rect x="703" y="930" width="1" height="3" fill="#000"/>
<text x="702.5" y="942" font-size="10.4" fill="#000" font-weight="normal" text-anchor="start" textLength="49.5" lengthAdjust="spacingAndGlyphs" >11 Mar 2019</text>
<rect x="767" y="930" width="1" height="3" fill="#000"/>
<text x="766.5" y="942" font-size="10.4" fill="#000" font-weight="normal" text-anchor="start" textLength="49.5" lengthAdjust="spacingAndGlyphs" >15 Mar 2019</text>
<rect x="831" y="930" width="1" height="3" fill="#000"/>
<text x="830.5" y="942" font-size="10.4" fill="#000" font-weight="normal" text-anchor="start" textLength="49.5" lengthAdjust="spacingAndGlyphs" >20 Mar 2019</text>
<rect x="895" y="930" width="1" height="3" fill="#000"/>
<text x="894.5" y="942" font-size="10.4" fill="#000" font-weight="normal" text-anchor="start" textLength="49.5" lengthAdjust="spacingAndGlyphs" >25 Mar 2019</text>
<rect x="959" y="930" width="1" height="3" fill="#000"/>
<text x="958.5" y="942" font-size="10.4" fill="#000" font-weight="normal" text-anchor="start" textLength="49.5" lengthAdjust="spacingAndGlyphs" >29 Mar 2019</text>
<rect x="1023" y="930" width="1" height="3" fill="#000"/>
<text x="1022.5" y="942" font-size="10.4" fill="#000" font-weight="normal" text-anchor="start" textLength="45.5" lengthAdjust="spacingAndGlyphs" >3 Apr 2019</text>
<rect x="1087" y="930" width="1" height="3" fill="#000"/>
<text x="1086.5" y="942" font-size="10.4" fill="#000" font-weight="normal" text-anchor="start" textLength="45.5" lengthAdjust="spacingAndGlyphs" >8 Apr 2019</text>
<rect x="1151" y="930" width="1" height="3" fill="#000"/>
<text x="1150.5" y="942" font-size="10.4" fill="#000" font-weight="normal" text-anchor="start" textLength="49.5" lengthAdjust="spacingAndGlyphs" >12 Apr 2019</text>
<rect x="1215" y="930" width="1" height="3" fill="#000"/>
<text x="1214.5" y="942" font-size="10.4" fill="#000" font-weight="normal" text-anchor="start" textLength="49.5" lengthAdjust="spacingAndGlyphs" >17 Apr 2019</text>
<rect x="1279" y="930" width="1" height="3" fill="#000"/>
<text x="1278.5" y="942" font-size="10.4" fill="#000" font-weight="normal" text-anchor="start" textLength="49.5" lengthAdjust="spacingAndGlyphs" >23 Apr 2019</text>
<text x="14.5" y="41" font-size="10.4" fill="#000" font-weight="normal" text-anchor="start" textLength="209" lengthAdjust="spacingAndGlyphs" >GBPJPY-,Daily&#160;&#160;143.870 144.442 143.758 144.312</text>
<path d="M1.6 40.3 L5.5 36 L9.4 40.3 Z" fill="#000"/>
<text x="3" y="597" font-size="10.4" fill="#000" font-weight="normal" text-anchor="start" textLength="134" lengthAdjust="spacingAndGlyphs" >MACD(12,26,9) -0.3325 -0.0698</text>
<text x="3" y="782" font-size="10.4" fill="#000" font-weight="normal" text-anchor="start" textLength="68" lengthAdjust="spacingAndGlyphs" >RSI(14) 40.4266</text>
</g>
<!-- one click trading panel -->
<defs><linearGradient id="gb1" x1="0" y1="0" x2="0" y2="1"><stop offset="0" stop-color="#5858F0"/><stop offset="1" stop-color="#3A3AE6"/></linearGradient><linearGradient id="gb2" x1="0" y1="0" x2="0" y2="1"><stop offset="0" stop-color="#3232E2"/><stop offset="0.5" stop-color="#1414C8"/><stop offset="1" stop-color="#0000B0"/></linearGradient><linearGradient id="gbtn" x1="0" y1="0" x2="0" y2="1"><stop offset="0" stop-color="#F4F4F4"/><stop offset="1" stop-color="#DCDCDC"/></linearGradient></defs>
<g font-family="Liberation Sans, sans-serif">
<rect x="1" y="48" width="221" height="66" fill="#fff"/>
<rect x="2" y="49" width="52" height="25" fill="url(#gb1)"/>
<rect x="2" y="73" width="109" height="40" fill="url(#gb2)"/>
<rect x="6" y="72" width="44" height="1" fill="#0A0AA8"/><rect x="6" y="73" width="44" height="1" fill="#7373F0"/>
<path d="M2.5 112.5 V49.5 H53.5 V73.5 H110.5 V112.5" fill="none" stroke="#0A0AB4" stroke-width="1"/>
<rect x="169" y="49" width="52" height="25" fill="url(#gb1)"/>
<rect x="113" y="73" width="108" height="40" fill="url(#gb2)"/>
<rect x="173" y="72" width="44" height="1" fill="#0A0AA8"/><rect x="173" y="73" width="44" height="1" fill="#7373F0"/>
<path d="M113.5 112.5 V73.5 H169.5 V49.5 H220.5 V112.5" fill="none" stroke="#0A0AB4" stroke-width="1"/>
<rect x="56.5" y="49.5" width="110" height="21" fill="#fff" stroke="#ABABAB" stroke-width="1"/>
<rect x="57" y="50" width="20" height="20" fill="url(#gbtn)"/><rect x="77" y="50" width="1" height="20" fill="#ABABAB"/>
<rect x="146" y="50" width="20" height="20" fill="url(#gbtn)"/><rect x="145" y="50" width="1" height="20" fill="#ABABAB"/>
<path d="M64 58 L70 58 L67 61.5 Z" fill="#000"/>
<path d="M153 61.5 L159 61.5 L156 58 Z" fill="#000"/>
<text x="141.5" y="64" font-size="12" text-anchor="end" fill="#000" textLength="22.5" lengthAdjust="spacingAndGlyphs">1.00</text>
<text x="14.8" y="65" font-size="12" fill="#fff" textLength="25.3" lengthAdjust="spacingAndGlyphs">SELL</text>
<text x="182.5" y="65" font-size="12" fill="#fff" textLength="23.2" lengthAdjust="spacingAndGlyphs">BUY</text>
<text x="26" y="103.8" font-size="12" font-weight="bold" fill="#fff" textLength="20" lengthAdjust="spacingAndGlyphs">144</text>
<text x="49.5" y="103.8" font-size="32.5" fill="#fff" textLength="32" lengthAdjust="spacingAndGlyphs">31</text>
<text x="89" y="88" font-size="12.5" font-weight="bold" fill="#fff">2</text>
<text x="136" y="103.8" font-size="12" font-weight="bold" fill="#fff" textLength="20" lengthAdjust="spacingAndGlyphs">144</text>
<text x="160.5" y="103.8" font-size="32.5" fill="#fff" textLength="34.5" lengthAdjust="spacingAndGlyphs">35</text>
<text x="199.8" y="88" font-size="12.5" font-weight="bold" fill="#fff">0</text>
</g>
<!-- toolbar -->
<rect x="0" y="0" width="1673" height="25" fill="#F0F0F0"/>
<rect x="0" y="25" width="1673" height="1" fill="#A8A8A8"/><rect x="0" y="26" width="1673" height="1" fill="#696969"/>
<path d="M-2 6.5 h7 l3.5 3.5 v8 h-10.5 Z" fill="#fff" stroke="#9A9A9A" stroke-width="1"/>
<rect x="0" y="9" width="4" height="1" fill="#999"/><rect x="0" y="12" width="6" height="1" fill="#999"/>
<path d="M5.9 11.799999999999999 h3.2 v3.8 h3.8 v3.2 h-3.8 v3.8 h-3.2 v-3.8 h-3.8 v-3.2 h3.8 Z" fill="#16C416" stroke="#0A7E0A" stroke-width="0.9"/><rect x="6.9" y="12.799999999999999" width="1.2" height="8.8" fill="#3BEA3B"/><rect x="3.0999999999999996" y="16.599999999999998" width="8.8" height="1.2" fill="#3BEA3B"/>
<text x="15.5" y="16" font-family="Liberation Sans, Noto Sans CJK SC, sans-serif" font-size="12.1" fill="#000" textLength="36.3" lengthAdjust="spacingAndGlyphs">新订单</text>
<path d="M70 6.2 L79.5 12.5 L78 16.5 L71.5 20.8 L64 15 Z" fill="#E3B21A" stroke="#A87408" stroke-width="0.9"/>
<path d="M70.5 7.5 L78 12.8 L72 18 L66 14 Z" fill="#F7D64A"/>
<path d="M64.5 15.5 L71.5 20.3 L78 16.2" fill="none" stroke="#F3E3A0" stroke-width="1"/>
<path d="M95 6.5 L99 5 L104.5 5.8 L104.5 16 L96.5 16 Z" fill="#2F8BE6" stroke="#1A62B8" stroke-width="0.8"/>
<rect x="98.3" y="8" width="5" height="1.3" fill="#BFE0FF"/><rect x="98.3" y="11" width="5" height="1.3" fill="#BFE0FF"/>
<path d="M95 20.5 a3 3 0 0 1 0.5 -6 a3.6 3.6 0 0 1 6.5 -1 a3 3 0 0 1 3.5 2.2 a2.6 2.6 0 0 1 -0.5 4.8 Z" fill="#EEF4FC" stroke="#6F93C9" stroke-width="0.9"/>
<path d="M128 20 A7.5 7.5 0 0 1 128 5" fill="none" stroke="#7FA2E4" stroke-width="1.4"/><path d="M128 5 A7.5 7.5 0 0 1 130.5 19.6" fill="none" stroke="#7CC07C" stroke-width="1.6"/>
<path d="M126.5 16.8 A4.5 4.5 0 0 1 128 8" fill="none" stroke="#5F8ADB" stroke-width="1.3"/><path d="M128 8 A4.5 4.5 0 0 1 129.8 16.6" fill="none" stroke="#58AE58" stroke-width="1.4"/>
<circle cx="127.9" cy="12.4" r="1.9" fill="#2E62D2"/>
<rect x="127.6" y="13" width="1.4" height="8" fill="#2EA82E"/>
<path d="M148.5 13 L162 13 L158 20.5 L154 20.5 Z" fill="#F6D84A" stroke="#C9A21A" stroke-width="0.8"/>
<ellipse cx="155.2" cy="10.3" rx="7.8" ry="2.6" fill="#4E9EDB" stroke="#2E78BB" stroke-width="0.8"/>
<path d="M151 9.5 a4.3 4.3 0 0 1 8.4 0 Z" fill="#7EC0EE" stroke="#2E78BB" stroke-width="0.8"/>
<circle cx="159.5" cy="16.8" r="4" fill="#D81E12"/><rect x="157.8" y="15.1" width="3.4" height="3.4" fill="#fff"/>
<text x="168.5" y="16" font-family="Liberation Sans, Noto Sans CJK SC, sans-serif" font-size="12.1" fill="#000" textLength="48.4" lengthAdjust="spacingAndGlyphs">自动交易</text>
<rect x="223" y="0" width="1" height="24" fill="#A0A0A0"/><rect x="224" y="0" width="1" height="24" fill="#fff"/>
<rect x="227" y="3" width="3" height="1" fill="#A0A0A0"/><rect x="227" y="5" width="3" height="1" fill="#A0A0A0"/><rect x="227" y="7" width="3" height="1" fill="#A0A0A0"/><rect x="227" y="9" width="3" height="1" fill="#A0A0A0"/><rect x="227" y="11" width="3" height="1" fill="#A0A0A0"/><rect x="227" y="13" width="3" height="1" fill="#A0A0A0"/><rect x="227" y="15" width="3" height="1" fill="#A0A0A0"/><rect x="227" y="17" width="3" height="1" fill="#A0A0A0"/><rect x="227" y="19" width="3" height="1" fill="#A0A0A0"/><rect x="227" y="21" width="3" height="1" fill="#A0A0A0"/>
<rect x="241" y="8" width="1" height="13" fill="#555"/><path d="M239.8 9.2 L241.5 6.6 L243.2 9.2 Z" fill="#555"/><rect x="239" y="18" width="13" height="1" fill="#555"/><path d="M251.2 16.8 L253.8 18.5 L251.2 20.2 Z" fill="#555"/>
<path d="M244.8 15.5 h2.8 M247.6 8.6 v7.5 M247.6 9.4 h2.6" fill="none" stroke="#1C9A1C" stroke-width="1.3"/>
<rect x="261" y="1" width="25" height="22" fill="#F8F8F8"/><rect x="261" y="1" width="25" height="1" fill="#A0A0A0"/><rect x="261" y="1" width="1" height="22" fill="#A0A0A0"/><rect x="261" y="23" width="26" height="1" fill="#fff"/><rect x="286" y="1" width="1" height="22" fill="#fff"/>
<rect x="269" y="8" width="1" height="13" fill="#555"/><path d="M267.8 9.2 L269.5 6.6 L271.2 9.2 Z" fill="#555"/><rect x="267" y="18" width="13" height="1" fill="#555"/><path d="M279.2 16.8 L281.8 18.5 L279.2 20.2 Z" fill="#555"/>
<rect x="275" y="5" width="1" height="12" fill="#1C9A1C"/><rect x="273.2" y="7.5" width="4.6" height="7" fill="#4FE04F" stroke="#148A14" stroke-width="0.9"/>
<rect x="297" y="8" width="1" height="13" fill="#555"/><path d="M295.8 9.2 L297.5 6.6 L299.2 9.2 Z" fill="#555"/><rect x="295" y="18" width="13" height="1" fill="#555"/><path d="M307.2 16.8 L309.8 18.5 L307.2 20.2 Z" fill="#555"/>
<path d="M296 15.5 C299 13 300 10 302.5 10.2 C304.5 10.5 305.5 13.5 307.5 14" fill="none" stroke="#2EA02E" stroke-width="1.2"/>
<rect x="318" y="2" width="1" height="21" fill="#A0A0A0"/>
<path d="M336.40000000000003 14.4 L342.0 19.8" stroke="#B98E12" stroke-width="3.3"/><path d="M336.7 14.7 L341.7 19.5" stroke="#EBCB3C" stroke-width="1.7"/>
<circle cx="332.8" cy="10.8" r="5.4" fill="#DCEEFB" stroke="#3F7FCB" stroke-width="1.3"/>
<rect x="329.8" y="10.1" width="6" height="1.5" fill="#3B7FB5"/>
<rect x="332.05" y="7.8" width="1.5" height="6" fill="#3B7FB5"/>
<path d="M364.6 14.4 L370.2 19.8" stroke="#B98E12" stroke-width="3.3"/><path d="M364.9 14.7 L369.9 19.5" stroke="#EBCB3C" stroke-width="1.7"/>
<circle cx="361" cy="10.8" r="5.4" fill="#DCEEFB" stroke="#3F7FCB" stroke-width="1.3"/>
<rect x="358" y="10.1" width="6" height="1.5" fill="#3B7FB5"/>
<rect x="383" y="5" width="8" height="8" fill="#3FA326"/><rect x="384.4" y="8.4" width="5.2" height="3.2" fill="#fff"/><rect x="385.4" y="9.4" width="3.2" height="0.9" fill="#3FA326" opacity="0.45"/><rect x="384.2" y="6.2" width="1" height="1" fill="#fff" opacity="0.8"/>
<rect x="391" y="5" width="8" height="8" fill="#2456C8"/><rect x="392.4" y="8.4" width="5.2" height="3.2" fill="#fff"/><rect x="393.4" y="9.4" width="3.2" height="0.9" fill="#2456C8" opacity="0.45"/><rect x="392.2" y="6.2" width="1" height="1" fill="#fff" opacity="0.8"/>
<rect x="383" y="13" width="8" height="8" fill="#2456C8"/><rect x="384.4" y="16.4" width="5.2" height="3.2" fill="#fff"/><rect x="385.4" y="17.4" width="3.2" height="0.9" fill="#2456C8" opacity="0.45"/><rect x="384.2" y="14.2" width="1" height="1" fill="#fff" opacity="0.8"/>
<rect x="391" y="13" width="8" height="8" fill="#3FA326"/><rect x="392.4" y="16.4" width="5.2" height="3.2" fill="#fff"/><rect x="393.4" y="17.4" width="3.2" height="0.9" fill="#3FA326" opacity="0.45"/><rect x="392.2" y="14.2" width="1" height="1" fill="#fff" opacity="0.8"/>
<rect x="408" y="2" width="1" height="21" fill="#A0A0A0"/>
<rect x="413" y="1" width="25" height="22" fill="#F8F8F8"/><rect x="413" y="1" width="25" height="1" fill="#A0A0A0"/><rect x="413" y="1" width="1" height="22" fill="#A0A0A0"/><rect x="413" y="23" width="26" height="1" fill="#fff"/><rect x="438" y="1" width="1" height="22" fill="#fff"/>
<rect x="421" y="8" width="1" height="13" fill="#555"/><path d="M419.8 9.2 L421.5 6.6 L423.2 9.2 Z" fill="#555"/><rect x="419" y="18" width="13" height="1" fill="#555"/><path d="M431.2 16.8 L433.8 18.5 L431.2 20.2 Z" fill="#555"/>
<path d="M426 9 L430 12.3 L426 15.6 Z" fill="#7DE07D" stroke="#1C9A1C" stroke-width="0.9"/>
<rect x="441" y="1" width="25" height="22" fill="#F8F8F8"/><rect x="441" y="1" width="25" height="1" fill="#A0A0A0"/><rect x="441" y="1" width="1" height="22" fill="#A0A0A0"/><rect x="441" y="23" width="26" height="1" fill="#fff"/><rect x="466" y="1" width="1" height="22" fill="#fff"/>
<rect x="449" y="8" width="1" height="13" fill="#555"/><path d="M447.8 9.2 L449.5 6.6 L451.2 9.2 Z" fill="#555"/><rect x="447" y="18" width="13" height="1" fill="#555"/><path d="M459.2 16.8 L461.8 18.5 L459.2 20.2 Z" fill="#555"/>
<rect x="455" y="7" width="1.2" height="10" fill="#1E6FB0"/><path d="M456.5 12.3 L460.5 12.3 M456.5 12.3 L459 10.3 M456.5 12.3 L459 14.3" stroke="#E0500A" stroke-width="1.2" fill="none"/>
<rect x="470" y="2" width="1" height="21" fill="#A0A0A0"/>
<path d="M480.5 5.5 h7 l3.5 3.5 v9 h-10.5 Z" fill="#fff" stroke="#8A8A8A" stroke-width="1"/><path d="M487.5 5.5 v3.5 h3.5" fill="#E8E8E8" stroke="#8A8A8A" stroke-width="0.8"/><path d="M485.3 8.3 q-1.6 0 -1.6 1.5 v1.3 q0 0.9 -0.9 0.9 q0.9 0 0.9 0.9 v1.3 q0 1.5 1.6 1.5" fill="none" stroke="#4A3A20" stroke-width="0.8"/>
<path d="M488.2 11.799999999999999 h3.2 v3.8 h3.8 v3.2 h-3.8 v3.8 h-3.2 v-3.8 h-3.8 v-3.2 h3.8 Z" fill="#16C416" stroke="#0A7E0A" stroke-width="0.9"/><rect x="489.2" y="12.799999999999999" width="1.2" height="8.8" fill="#3BEA3B"/><rect x="485.40000000000003" y="16.599999999999998" width="8.8" height="1.2" fill="#3BEA3B"/>
<path d="M501.7 12 L507.2 12 L504.45 15 Z" fill="#000"/>
<defs><linearGradient id="gclk" x1="0" y1="0" x2="1" y2="1"><stop offset="0" stop-color="#4FA6F2"/><stop offset="1" stop-color="#0B4FA8"/></linearGradient></defs>
<circle cx="526" cy="12.9" r="6.6" fill="#EEF2F6" stroke="url(#gclk)" stroke-width="2.6"/>
<path d="M525.4 9.6 L525.7 12.8 L528.6 13.2" fill="none" stroke="#222" stroke-width="1.1"/>
<circle cx="526" cy="12.9" r="4.4" fill="none" stroke="#9AA4B0" stroke-width="0.7" stroke-dasharray="0.6,1.7"/>
<path d="M540.8 12 L546.3 12 L543.55 15 Z" fill="#000"/>
<rect x="557.5" y="6.5" width="15" height="13" fill="#fff" stroke="#2D6BC4" stroke-width="1"/><rect x="558" y="7" width="14" height="2" fill="#4D8DE0"/><rect x="558" y="13" width="14" height="1.3" fill="#2D6BC4"/>
<path d="M559.5 12 h2 l1.5 -1.5 h2 l1.5 1 h2 l1.5 -1.5" fill="none" stroke="#A02A0A" stroke-width="1.2"/>
<path d="M560 17.5 h2 l1.5 -1 h1.5 l2 -1.8 l2.5 2.5" fill="none" stroke="#1C8A1C" stroke-width="1.2"/>
<path d="M579.6 12 L585.1 12 L582.35 15 Z" fill="#000"/>
<rect x="591" y="0" width="1" height="24" fill="#A0A0A0"/><rect x="592" y="0" width="1" height="24" fill="#fff"/>
<rect x="595" y="3" width="3" height="1" fill="#A0A0A0"/><rect x="595" y="5" width="3" height="1" fill="#A0A0A0"/><rect x="595" y="7" width="3" height="1" fill="#A0A0A0"/><rect x="595" y="9" width="3" height="1" fill="#A0A0A0"/><rect x="595" y="11" width="3" height="1" fill="#A0A0A0"/><rect x="595" y="13" width="3" height="1" fill="#A0A0A0"/><rect x="595" y="15" width="3" height="1" fill="#A0A0A0"/><rect x="595" y="17" width="3" height="1" fill="#A0A0A0"/><rect x="595" y="19" width="3" height="1" fill="#A0A0A0"/><rect x="595" y="21" width="3" height="1" fill="#A0A0A0"/>
<rect x="601" y="1" width="25" height="22" fill="#F8F8F8"/><rect x="601" y="1" width="25" height="1" fill="#A0A0A0"/><rect x="601" y="1" width="1" height="22" fill="#A0A0A0"/><rect x="601" y="23" width="26" height="1" fill="#fff"/><rect x="626" y="1" width="1" height="22" fill="#fff"/>
<path d="M609 5.7 L609 17 L611.7 14.6 L614 20 L616 19.2 L613.8 14 L617 13.6 Z" fill="#4A4A4A"/>
<rect x="634" y="13" width="15" height="1" fill="#444"/><rect x="641" y="6" width="1" height="15" fill="#444"/><rect x="641" y="13" width="1" height="1" fill="#F0F0F0"/>
<rect x="658" y="2" width="1" height="21" fill="#A0A0A0"/>
<rect x="675" y="7" width="1" height="13" fill="#444"/>
<rect x="698" y="13" width="12" height="1" fill="#444"/>
<path d="M726 20 L738 7.8" stroke="#555" stroke-width="1.1"/>
<path d="M751.7 14.5 L759.8 7.1 M757 19.8 L766 11.8" stroke="#666" stroke-width="0.8"/><path d="M752.6 18.7 L766 10.8" stroke="#4A4A4A" stroke-width="1.1"/>
<path d="M754.4 12.2 V19.8 M758.6 9 V16.5 M763.4 5 V12.2" stroke="#444" stroke-width="1.3"/>
<text x="762.8" y="21.6" font-family="Liberation Sans, sans-serif" font-size="6.4" font-weight="bold" fill="#333">E</text>
<line x1="781" y1="6.5" x2="794" y2="6.5" stroke="#555" stroke-width="1" stroke-dasharray="1,1" shape-rendering="crispEdges"/>
<line x1="781" y1="9.5" x2="794" y2="9.5" stroke="#555" stroke-width="1" stroke-dasharray="1,1" shape-rendering="crispEdges"/>
<line x1="781" y1="13.5" x2="794" y2="13.5" stroke="#555" stroke-width="1" stroke-dasharray="1,1" shape-rendering="crispEdges"/>
<line x1="781" y1="17.5" x2="789" y2="17.5" stroke="#555" stroke-width="1" stroke-dasharray="1,1" shape-rendering="crispEdges"/>
<text x="790.6" y="21.6" font-family="Liberation Sans, sans-serif" font-size="6.4" font-weight="bold" fill="#333">F</text>
<text x="815.6" y="18" font-family="Liberation Sans, sans-serif" font-size="12.5" font-weight="bold" text-anchor="middle" fill="#5E5E5E" textLength="8" lengthAdjust="spacingAndGlyphs">A</text>
<rect x="838.5" y="6.5" width="11" height="13" fill="none" stroke="#555" stroke-width="1" stroke-dasharray="1,1" shape-rendering="crispEdges"/>
<text x="843.6" y="17.8" font-family="Liberation Sans, sans-serif" font-size="11" font-weight="bold" text-anchor="middle" fill="#5E5E5E">T</text>
<path d="M868.8 6.8 L872.6 10.4 L870.2 10.4 L870.2 11.8 L867.4 11.8 L867.4 10.4 L865 10.4 Z" fill="#444"/>
<path d="M875.6 20 L871.9 16.3 L874.2 16.3 L874.2 15 L877 15 L877 16.3 L879.3 16.3 Z" fill="#444"/>
<path d="M867.2 14.6 l2.4 2 l4.6 -5.6" fill="none" stroke="#444" stroke-width="1.3"/>
<path d="M885.7 12 L891.2 12 L888.45 15 Z" fill="#000"/>
<rect x="897" y="0" width="1" height="24" fill="#A0A0A0"/><rect x="898" y="0" width="1" height="24" fill="#fff"/>
<rect x="901" y="3" width="3" height="1" fill="#A0A0A0"/><rect x="901" y="5" width="3" height="1" fill="#A0A0A0"/><rect x="901" y="7" width="3" height="1" fill="#A0A0A0"/><rect x="901" y="9" width="3" height="1" fill="#A0A0A0"/><rect x="901" y="11" width="3" height="1" fill="#A0A0A0"/><rect x="901" y="13" width="3" height="1" fill="#A0A0A0"/><rect x="901" y="15" width="3" height="1" fill="#A0A0A0"/><rect x="901" y="17" width="3" height="1" fill="#A0A0A0"/><rect x="901" y="19" width="3" height="1" fill="#A0A0A0"/><rect x="901" y="21" width="3" height="1" fill="#A0A0A0"/>
<rect x="1075" y="1" width="25" height="22" fill="#F8F8F8"/><rect x="1075" y="1" width="25" height="1" fill="#A0A0A0"/><rect x="1075" y="1" width="1" height="22" fill="#A0A0A0"/><rect x="1075" y="23" width="26" height="1" fill="#fff"/><rect x="1100" y="1" width="1" height="22" fill="#fff"/>
<text x="912.3" y="17" font-family="Liberation Sans, sans-serif" font-size="9.6" fill="#4A4A4A" textLength="13.4" lengthAdjust="spacingAndGlyphs">M1</text>
<text x="940.4" y="17" font-family="Liberation Sans, sans-serif" font-size="9.6" fill="#4A4A4A" textLength="13.2" lengthAdjust="spacingAndGlyphs">M5</text>
<text x="966.4" y="17" font-family="Liberation Sans, sans-serif" font-size="9.6" fill="#4A4A4A" textLength="18.4" lengthAdjust="spacingAndGlyphs">M15</text>
<text x="994.1" y="17" font-family="Liberation Sans, sans-serif" font-size="9.6" fill="#4A4A4A" textLength="18.6" lengthAdjust="spacingAndGlyphs">M30</text>
<text x="1025.3" y="17" font-family="Liberation Sans, sans-serif" font-size="9.6" fill="#4A4A4A" textLength="12.6" lengthAdjust="spacingAndGlyphs">H1</text>
<text x="1052.7" y="17" font-family="Liberation Sans, sans-serif" font-size="9.6" fill="#4A4A4A" textLength="12.6" lengthAdjust="spacingAndGlyphs">H4</text>
<text x="1081" y="17" font-family="Liberation Sans, sans-serif" font-size="9.6" fill="#4A4A4A" textLength="12.4" lengthAdjust="spacingAndGlyphs">D1</text>
<text x="1108.5" y="17" font-family="Liberation Sans, sans-serif" font-size="9.6" fill="#4A4A4A" textLength="14.8" lengthAdjust="spacingAndGlyphs">W1</text>
<text x="1135.6" y="17" font-family="Liberation Sans, sans-serif" font-size="9.6" fill="#4A4A4A" textLength="15.2" lengthAdjust="spacingAndGlyphs">MN</text>
<rect x="1158" y="0" width="1" height="24" fill="#A0A0A0"/><rect x="1159" y="0" width="1" height="24" fill="#fff"/>
<path d="M1621.3 17.6 L1625.2 13.7" stroke="#1E50C8" stroke-width="2.4" stroke-linecap="butt"/><circle cx="1628.6" cy="10.5" r="4" fill="#FBFCFF" stroke="#2B5FD8" stroke-width="1.3"/>
<defs><linearGradient id="gbub" x1="0" y1="0" x2="0" y2="1"><stop offset="0" stop-color="#FFFFFF"/><stop offset="1" stop-color="#D9D9E2"/></linearGradient></defs>
<path d="M1663.6 14.2 l1.2 2.8 l-3.4 -2.4 Z" fill="#777"/><ellipse cx="1661.1" cy="10" rx="6.6" ry="4.7" fill="url(#gbub)" stroke="#A2A2A2" stroke-width="0.9"/>
<path d="M1650.3 17 l-0.8 2.8 l3.2 -2.2 Z" fill="#777"/><ellipse cx="1652.2" cy="14" rx="4.9" ry="3.8" fill="url(#gbub)" stroke="#A2A2A2" stroke-width="0.9"/>
</svg>
</body></html>
